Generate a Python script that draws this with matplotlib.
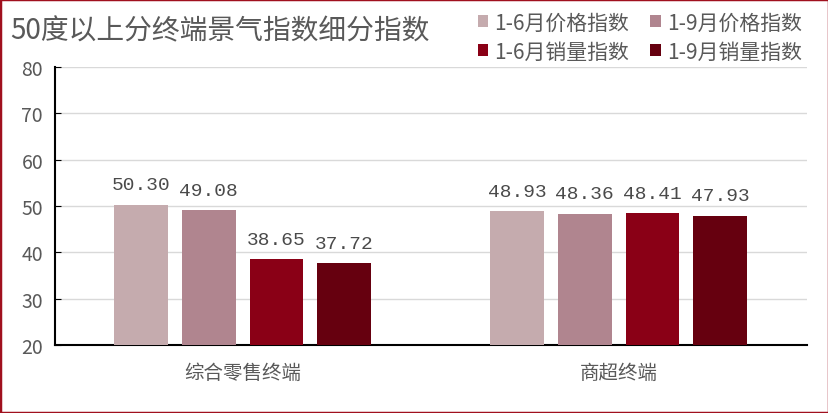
import numpy as np
import matplotlib
matplotlib.use("Agg")
import matplotlib.pyplot as plt
from matplotlib.patches import Rectangle

plt.rcParams["font.family"] = ["Noto Sans CJK SC", "DejaVu Sans"]

# 数据
categories = ["综合零售终端", "商超终端"]
series_names = ["1-6月价格指数", "1-9月价格指数", "1-6月销量指数", "1-9月销量指数"]
price_h1 = [50.30, 48.93]
price_q3 = [49.08, 48.36]
sales_h1 = [38.65, 48.41]
sales_q3 = [37.72, 47.93]
colors = ["#C5ABAE", "#B0858F", "#8A0016", "#66000F"]

series = [price_h1, price_q3, sales_h1, sales_q3]
gray = "#595959"

fig = plt.figure(figsize=(8.29, 4.14), dpi=100)
ax = fig.add_axes([0.066, 0.164, 0.907, 0.672])

x = np.arange(len(categories))
width = 0.143
step = 0.18
for i, (vals, name, c) in enumerate(zip(series, series_names, colors)):
    pos = x + (i - 1.5) * step
    ax.bar(pos, np.array(vals) - 20, width, bottom=20, color=c, label=name, zorder=3)
    for xp, v in zip(pos, vals):
        ax.annotate(f"{v:.2f}", (xp, v), xytext=(0, 8), textcoords="offset points",
                    ha="center", va="bottom", fontsize=14, color="#4a4a4a",
                    family=["Liberation Mono", "DejaVu Sans"])

ax.set_xlim(-0.5, 1.5)
ax.set_ylim(20, 80)
ax.set_yticks(range(20, 81, 10))
ax.set_xticks(x)
ax.set_xticklabels(categories, fontsize=14, color=gray)
ax.tick_params(axis="x", length=0, pad=12)
ax.tick_params(axis="y", direction="in", length=4, labelsize=14, labelcolor=gray, pad=24)
for lab in ax.get_yticklabels():
    lab.set_horizontalalignment("left")
ax.grid(axis="y", color="#D9D9D9", linewidth=1, zorder=0)
ax.spines["top"].set_visible(False)
ax.spines["right"].set_visible(False)
ax.spines["left"].set_linewidth(1.5)
ax.spines["bottom"].set_linewidth(1.5)

fig.text(0.012, 0.925, "50度以上分终端景气指数细分指数", fontsize=20, color=gray, va="center")

# 图例按行排列
handles, labels = ax.get_legend_handles_labels()
order = [0, 2, 1, 3]
leg = fig.legend([handles[k] for k in order], [labels[k] for k in order], ncol=2,
                 loc="upper right", bbox_to_anchor=(0.99, 1.015),
                 frameon=False, fontsize=15, handlelength=0.5, handleheight=0.5,
                 handletextpad=0.3, columnspacing=1.0, labelspacing=0.35)
for t in leg.get_texts():
    t.set_color(gray)

fig.patches.append(Rectangle((0, 0), 1, 1, transform=fig.transFigure, fill=False,
                             edgecolor="#A0101E", linewidth=2.5, clip_on=False))

plt.savefig("out.png", dpi=100)
